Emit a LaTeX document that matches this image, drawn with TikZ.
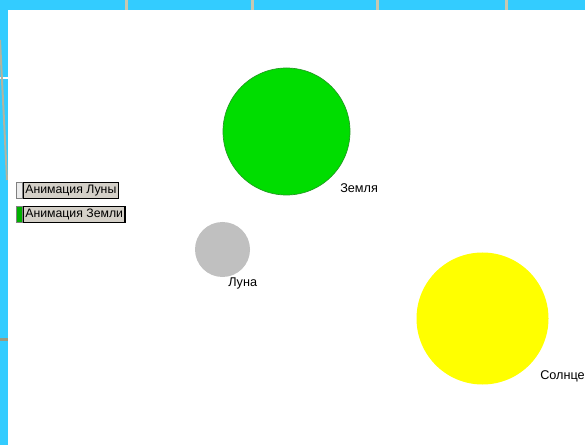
\documentclass[tikz,border=0pt]{standalone}
\usepackage{fontspec}
\setmainfont{Liberation Sans}
\usetikzlibrary{positioning}
\definecolor{framecyan}{HTML}{33CCFF}
\definecolor{sepgray}{HTML}{C8C8B0}
\definecolor{sepdark}{HTML}{9A9A80}
\definecolor{earthgreen}{HTML}{00DD00}
\definecolor{earthedge}{HTML}{229922}
\definecolor{moongray}{HTML}{C0C0C0}
\definecolor{sunyellow}{HTML}{FFFF00}
\definecolor{btnface}{HTML}{D4D0C8}
\newcommand{\pxl}{0.75pt}

\begin{document}
\begin{tikzpicture}[x=0.75pt, y=-0.75pt,
  planet/.style={circle, inner sep=0pt},
  caption/.style={font=\fontsize{9.5}{11}\selectfont, inner sep=0pt, anchor=west},
  btn/.style={draw=black, fill=btnface, line width=0.9pt, inner ysep=0pt,
    inner xsep=1.5pt, minimum height=16*\pxl, anchor=north west,
    font=\fontsize{9.2}{11}\selectfont},
  indicator/.style={draw=gray, line width=0.6pt, minimum width=6*\pxl,
    minimum height=16*\pxl, inner sep=0pt, anchor=north west}]
  \useasboundingbox (0,0) rectangle (585,445);
  \fill[white] (0,0) rectangle (585,445);
  % Frame
  \fill[framecyan] (0,0) rectangle (585,10);
  \fill[framecyan] (0,0) rectangle (8,445);
  \foreach \x in {125,251,376,505}
    \fill[sepgray] (\x,0) rectangle ++(3,10);
  \fill[white] (0,77) rectangle (8,79);
  \fill[sepdark] (0,338) rectangle (8,341);
  \draw[sepgray!90!black, line width=1.5pt] (0,40) -- (7,180);
  % Earth
  \node[planet, fill=earthgreen, draw=earthedge, line width=0.5pt,
    minimum size=127*\pxl] (earth) at (286.5,131.5) {};
  \node[caption] (earthlbl) at (340,188) {Земля};
  % Moon
  \node[planet, fill=moongray, minimum size=55*\pxl] (moon) at (222.5,249.5) {};
  \node[caption] (moonlbl) at (228,283) {Луна};
  % Sun
  \node[planet, fill=sunyellow, minimum size=132*\pxl] (sun) at (482.5,318.5) {};
  \node[caption] (sunlbl) at (540,376) {Солнце};
  % Buttons
  \node[indicator, fill=white!85!gray] (indmoon) at (16,182) {};
  \node[btn] (btnmoon) at (indmoon.north east) {Анимация Луны};
  \node[indicator, fill=earthgreen!80!black] (indearth) at (16,206) {};
  \node[btn] (btnearth) at (indearth.north east) {Анимация Земли};
\end{tikzpicture}
\end{document}
